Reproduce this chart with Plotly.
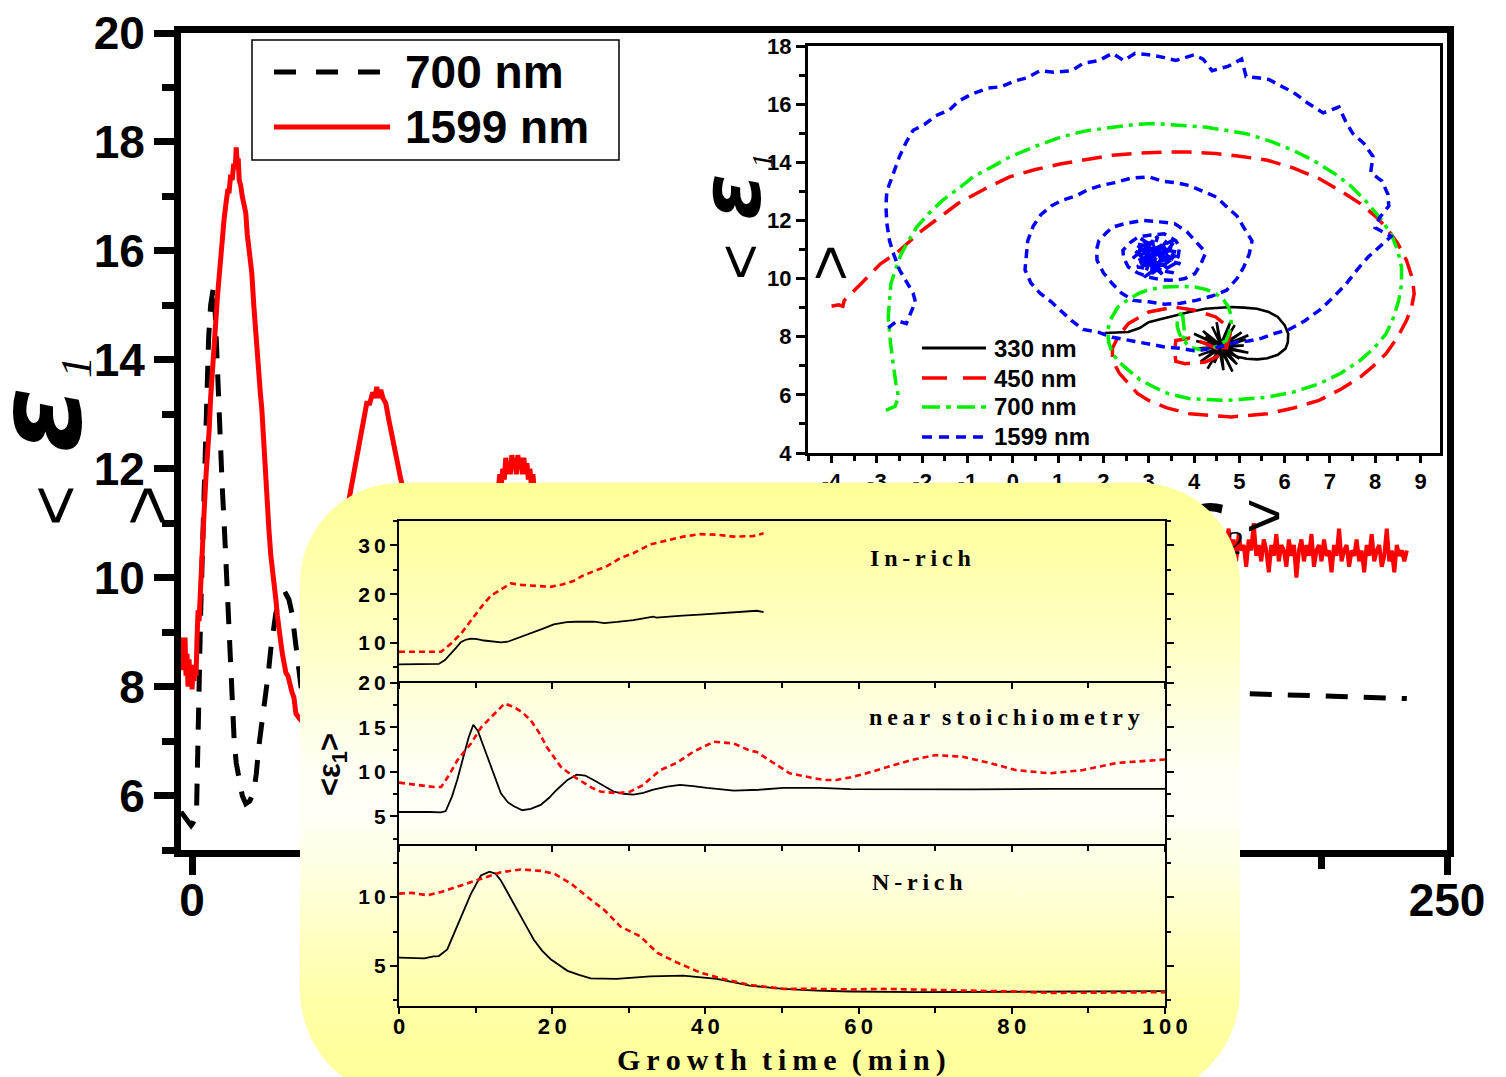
import numpy as np
import plotly.graph_objects as go

W, H = 1506, 1077

# ---------------- main panel: <eps1> vs growth time (min) ----------------
t_700 = [-2.2, -1.8, -1.4, -1.0, -0.6, -0.2, 0.2, 0.6, 0.9, 1.1, 1.3, 1.5, 1.7, 2.0, 2.3, 2.7,
         3.0, 3.3, 3.7, 4.0, 4.3, 4.6, 5.0, 5.5, 6.0, 6.5, 7.0, 7.4, 7.8, 8.4, 8.8, 9.3, 10.0,
         10.7, 11.5, 12.3, 12.8, 13.3, 14.0, 14.7, 15.2, 15.7, 16.2, 16.7, 17.2, 17.7, 18.2,
         18.7, 19.3, 19.9, 20.3, 20.7, 21.2, 21.7, 23.0, 24.5, 26.0, 28.0, 30.0, 32.0, 34.0,
         37.0, 40.0, 45.0, 55.0, 70.0, 100.0, 150.0, 200.0, 206.0, 210.0, 214.0, 218.0, 222.0,
         226.0, 230.0, 234.0, 238.0, 242.0]
e1_700 = [5.7, 5.65, 5.6, 5.55, 5.5, 5.45, 5.5, 5.6, 5.75, 6.4, 7.5, 8.4, 9.3, 10.4, 11.4, 12.6,
          13.5, 14.4, 15.0, 15.25, 15.35, 14.9, 13.8, 12.7, 11.7, 10.8, 9.7, 8.9, 8.1, 7.0, 6.6,
          6.3, 6.0, 5.85, 5.9, 6.07, 6.4, 6.9, 7.35, 7.8, 8.25, 8.7, 9.05, 9.35, 9.5, 9.6, 9.68,
          9.7, 9.6, 9.35, 9.05, 8.7, 8.35, 8.0, 7.4, 7.1, 7.3, 7.9, 8.3, 8.3, 8.0, 7.8, 7.85,
          7.95, 7.95, 7.9, 7.9, 7.9, 7.88, 7.88, 7.87, 7.86, 7.85, 7.84, 7.83, 7.82, 7.8, 7.79, 7.78]

t_1599 = [-2.2, -2.0, -1.8, -1.6, -1.4, -1.2, -1.0, -0.8, -0.6, -0.4, -0.2, 0.0, 0.2, 0.4, 0.6,
          0.8, 1.0, 1.2, 1.4, 1.7, 2.0, 2.4, 2.8, 3.1, 3.4, 3.7, 4.0, 4.4, 4.8, 5.1, 5.4, 5.7,
          6.0, 6.4, 6.8, 7.1, 7.4, 7.7, 8.0, 8.3, 8.6, 8.8, 9.0, 9.2, 9.4, 9.7, 10.0, 10.3, 10.7,
          11.0, 11.3, 11.6, 11.9, 12.3, 12.7, 13.0, 13.3, 13.6, 13.9, 14.3, 14.7, 15.0, 15.3,
          15.7, 16.0, 16.4, 16.7, 17.0, 17.3, 17.7, 18.0, 18.4, 18.7, 19.1, 19.5, 19.9, 20.3,
          20.7, 21.5, 22.5, 23.5, 24.5, 25.5, 26.5, 27.5, 28.5, 29.5, 30.5, 31.2, 31.8, 32.4,
          33.0, 33.6, 34.2, 34.8, 35.4, 36.0, 36.4, 36.8, 37.2, 37.6, 38.0, 38.6, 39.2, 39.8,
          40.4, 41.0, 41.6, 42.2, 43.5, 45.0, 47.0, 49.0, 51.0, 53.0, 55.0, 57.0, 59.0, 60.5,
          61.0, 61.3, 61.6, 61.9, 62.2, 62.5, 62.8, 63.1, 63.4, 63.7, 64.0, 64.3, 64.6, 64.9,
          65.2, 65.5, 65.8, 66.1, 66.4, 66.7, 67.0, 67.3, 67.6, 67.9, 68.2, 68.5, 69.0, 70.0,
          73.0, 77.0, 81.0, 85.0, 89.0, 93.0, 97.0, 101.0, 106.0, 112.0, 120.0, 130.0, 140.0,
          155.0, 170.0, 185.0, 200.0, 205.5]
e1_1599 = [8.9, 8.3, 8.8, 8.4, 8.9, 8.2, 8.6, 8.0, 8.5, 8.1, 8.4, 7.95, 8.3, 8.1, 8.4, 8.2, 8.9,
           9.4, 9.2, 9.8, 10.8, 11.2, 11.9, 12.2, 12.7, 13.3, 13.8, 14.2, 14.8, 15.2, 15.6,
           15.9, 16.3, 16.6, 16.9, 17.1, 17.1, 17.4, 17.3, 17.6, 17.5, 17.9, 17.6, 17.7, 17.3,
           17.2, 17.0, 16.9, 16.7, 16.3, 16.1, 15.8, 15.6, 15.0, 14.4, 14.1, 13.7, 13.4, 13.1,
           12.4, 11.7, 11.3, 10.9, 10.4, 10.2, 9.8, 9.6, 9.3, 9.0, 8.8, 8.6, 8.4, 8.25, 8.2,
           8.0, 7.9, 7.8, 7.5, 7.4, 7.3, 7.3, 7.5, 7.8, 8.3, 8.9, 9.5, 10.1, 10.8, 11.4, 11.7,
           12.1, 12.3, 12.7, 12.9, 13.2, 13.2, 13.4, 13.3, 13.5, 13.3, 13.45, 13.3, 13.2, 12.9,
           12.6, 12.3, 12.0, 11.8, 11.6, 11.1, 10.6, 10.0, 9.6, 9.4, 9.4, 9.6, 10.0, 10.6, 11.1,
           11.6, 11.9, 11.7, 12.0, 11.8, 12.2, 11.9, 12.1, 11.9, 12.25, 12.0, 12.2, 11.9, 12.25,
           12.0, 12.2, 11.9, 12.2, 11.9, 12.1, 11.8, 12.0, 11.7, 11.9, 11.6, 11.7, 11.5, 11.3,
           10.8, 10.3, 10.1, 10.3, 10.8, 11.1, 11.2, 11.0, 10.7, 10.5, 10.6, 10.8, 10.7, 10.6,
           10.6, 10.5, 10.5, 10.6]
# noisy plateau of the 1599 nm trace, sampled every 0.5 min from 206 min
e1_1599_tail = [10.6, 10.9, 10.4, 10.7, 10.3, 10.8, 10.5, 10.6, 10.2, 10.7, 10.5, 11.0, 10.4,
                10.6, 10.3, 10.7, 10.5, 10.1, 10.6, 10.4, 10.8, 10.3, 10.6, 10.5, 10.2, 10.7,
                10.4, 10.6, 10.0, 10.5, 10.7, 10.3, 10.6, 10.4, 10.8, 10.2, 10.5, 10.6, 10.3,
                10.7, 10.4, 10.5, 10.1, 10.6, 10.4, 10.9, 10.3, 10.5, 10.6, 10.2, 10.5, 10.4,
                10.7, 10.3, 10.5, 10.1, 10.6, 10.4, 10.8, 10.3, 10.5, 10.6, 10.2, 10.4, 10.9,
                10.3, 10.5, 10.1, 10.6, 10.4, 10.5, 10.3, 10.5]
t_1599_tail = list(206.0 + 0.5 * np.arange(len(e1_1599_tail)))

# ---------------- inset: <eps1> vs <eps2> trajectories ----------------
traj_e2_330 = [2.03, 2.3, 2.55, 2.8, 3.0, 3.3, 3.57, 3.9, 4.25, 4.55, 4.82, 5.1, 5.39, 5.65, 5.85,
               6.0, 6.08, 6.07, 6.02, 5.85, 5.62, 5.4, 5.16, 4.98, 4.82, 4.7, 4.6,
               5.15, 4.62, 4.9, 4.58, 4.5, 4.6, 4.2, 4.55, 4.05, 4.62, 4.1, 4.58, 4.3, 4.6,
               4.65, 4.55, 4.95, 4.62, 5.2, 4.58, 5.05, 4.6, 4.4, 4.62, 4.1, 4.58, 4.45, 4.6,
               4.85, 4.55, 5.1, 4.62, 4.75, 4.58, 4.25, 4.6, 4.15, 4.62, 5.0, 4.58, 5.2, 4.6,
               4.35, 4.62, 4.8, 4.58, 4.0, 4.6]
traj_e1_330 = [8.13, 8.15, 8.16, 8.3, 8.5, 8.62, 8.73, 8.85, 8.96, 9.0, 9.02, 9.0, 8.96, 8.85, 8.68,
               8.4, 8.1, 7.8, 7.59, 7.38, 7.26, 7.22, 7.24, 7.3, 7.42, 7.6, 7.65,
               7.9, 7.66, 8.4, 7.62, 8.5, 7.7, 8.2, 7.64, 7.85, 7.66, 7.35, 7.62, 6.9, 7.7,
               6.85, 7.64, 7.05, 7.66, 7.45, 7.62, 8.15, 7.7, 8.35, 7.64, 7.6, 7.66, 7.1, 7.62,
               6.8, 7.7, 7.7, 7.64, 8.1, 7.66, 8.0, 7.62, 7.15, 7.7, 7.25, 7.64, 8.05, 7.66,
               7.4, 7.62, 8.5, 7.7, 8.1, 7.65]

traj_e2_450 = [-4.0, -3.85, -3.75, -3.72, -3.3, -2.92, -2.58, -2.0, -1.21, -0.6, -0.07, 0.5, 1.07,
               1.6, 2.2, 2.8, 3.34, 3.9, 4.48, 5.05, 5.62, 6.2, 6.76, 7.25, 7.67, 8.0, 8.24, 8.5,
               8.69, 8.82, 8.86, 8.8, 8.69, 8.5, 8.24, 7.95, 7.67, 7.25, 6.76, 6.2, 5.62, 4.82,
               3.91, 3.4, 3.0, 2.75, 2.55, 2.35, 2.2, 2.2, 2.32, 2.55, 3.0, 3.57, 4.02, 4.48,
               4.76, 4.8, 4.76, 4.65, 4.25, 3.8, 3.6, 3.57, 3.6, 3.9, 4.2, 4.5, 4.7, 4.75, 4.6]
traj_e1_450 = [9.05, 9.1, 9.05, 9.25, 9.9, 10.51, 10.86, 11.66, 12.58, 13.1, 13.5, 13.75, 13.95,
               14.1, 14.24, 14.32, 14.35, 14.35, 14.3, 14.2, 14.07, 13.8, 13.44, 13.0, 12.58,
               12.15, 11.77, 11.2, 10.63, 10.0, 9.48, 9.0, 8.56, 8.0, 7.42, 6.98, 6.61, 6.2,
               5.81, 5.55, 5.35, 5.24, 5.35, 5.55, 5.81, 6.05, 6.38, 6.75, 7.19, 7.6, 7.99,
               8.45, 8.85, 9.02, 8.91, 8.68, 8.33, 8.1, 7.87, 7.42, 7.13, 7.07, 7.15, 7.5, 7.87,
               7.95, 7.8, 7.6, 7.5, 7.8, 7.6]

traj_e2_700 = [-2.8, -2.6, -2.52, -2.58, -2.63, -2.7, -2.75, -2.72, -2.69, -2.58, -2.46, -2.3,
               -2.12, -1.85, -1.55, -1.2, -0.87, -0.45, -0.07, 0.5, 1.07, 1.6, 2.2, 2.7, 3.11,
               3.7, 4.25, 4.7, 5.16, 5.7, 6.19, 6.65, 7.1, 7.45, 7.78, 8.1, 8.35, 8.5, 8.58,
               8.58, 8.52, 8.4, 8.24, 7.98, 7.67, 7.25, 6.76, 6.2, 5.62, 4.71, 3.91, 3.45, 3.11,
               2.8, 2.55, 2.35, 2.2, 2.12, 2.09, 2.18, 2.32, 2.55, 2.77, 3.0, 3.34, 3.7, 4.02,
               4.28, 4.48, 4.65, 4.76, 4.82, 4.82, 4.78, 4.71, 4.55, 4.37, 4.15, 3.91, 3.78,
               3.68, 3.63, 3.63, 3.7, 3.74, 3.8, 3.7, 3.85]
traj_e1_700 = [5.47, 5.6, 5.92, 6.4, 6.96, 7.8, 8.68, 9.3, 9.82, 10.35, 10.86, 11.3, 11.77, 12.25,
               12.69, 13.1, 13.5, 13.85, 14.18, 14.55, 14.87, 15.08, 15.21, 15.3, 15.33, 15.28,
               15.21, 15.1, 14.98, 14.72, 14.41, 14.05, 13.61, 13.2, 12.69, 12.1, 11.54, 10.95,
               10.4, 9.8, 9.25, 8.65, 8.1, 7.62, 7.19, 6.75, 6.38, 6.1, 5.92, 5.81, 5.87, 6.03,
               6.27, 6.53, 6.84, 7.12, 7.42, 7.8, 8.22, 8.65, 9.02, 9.28, 9.48, 9.62, 9.71,
               9.73, 9.71, 9.62, 9.48, 9.27, 9.02, 8.72, 8.45, 8.15, 7.87, 7.7, 7.59, 7.55,
               7.64, 7.85, 8.1, 8.35, 8.56, 8.75, 8.9, 8.0, 7.9, 7.85]

traj_e2_1599 = [-2.75, -2.55, -2.35, -2.25, -2.15, -2.2, -2.35, -2.5, -2.62, -2.72, -2.78, -2.8,
                -2.78, -2.65, -2.5, -2.35, -2.2, -1.95, -1.7, -1.4, -1.2, -0.9, -0.55, -0.25,
                0.05, 0.3, 0.6, 0.9, 1.3, 1.55, 1.9, 2.2, 2.45, 2.7, 3.0, 3.35, 3.6, 4.0, 4.2,
                4.4, 4.75, 5.05, 5.15, 5.45, 5.65, 5.95, 6.2, 6.5, 6.85, 7.2, 7.35, 7.5, 7.75,
                7.95, 7.9, 8.15, 8.28, 8.3, 8.1, 8.0, 8.35, 8.1, 7.85, 7.6, 7.35, 7.1, 6.8, 6.45,
                6.1, 5.75, 5.5, 5.2, 4.95, 4.7, 4.45, 4.2, 4.0, 3.7, 3.35, 3.1, 2.85, 2.5, 2.2,
                1.9, 1.55, 1.3, 1.05, 0.85, 0.6, 0.4, 0.27, 0.3, 0.33, 0.45, 0.62, 0.85, 1.1,
                1.4, 1.65, 1.95, 2.25, 2.6, 3.0, 3.3, 3.6, 3.9, 4.2, 4.5, 4.7, 4.95, 5.1, 5.28,
                5.22, 5.1, 4.95, 4.72, 4.4, 4.05, 3.7, 3.35, 3.0, 2.66, 2.4, 2.2, 2.0, 1.86,
                1.85, 1.9, 2.05, 2.2, 2.5, 2.89, 3.25, 3.57, 3.85, 4.02, 4.2, 4.25, 4.15, 4.02,
                3.8, 3.57, 3.3, 3.0, 2.75, 2.55, 2.45, 2.43, 2.6, 2.77, 3.05, 3.34, 3.6, 3.68,
                3.65, 3.57, 3.35, 3.11, 2.85, 2.77, 2.8, 2.89, 3.15, 3.34, 3.45, 3.34, 3.1,
                2.95, 3.0, 3.2, 3.3, 3.15, 2.9, 3.05, 3.25, 3.1,
                3.4, 2.75, 3.55, 2.7, 3.65, 2.9, 3.2, 2.65, 3.6, 3.0, 3.45, 2.8, 3.7, 2.95, 3.3,
                2.7, 3.5, 3.1, 2.85, 3.6, 3.05, 3.35, 2.75, 3.25]
traj_e1_1599 = [8.3, 8.55, 8.45, 8.8, 9.2, 9.5, 9.9, 10.3, 10.8, 11.3, 11.9, 12.5, 13.0, 13.6,
                14.2, 14.7, 15.1, 15.3, 15.6, 15.8, 16.1, 16.35, 16.55, 16.6, 16.8, 16.9, 17.15,
                17.1, 17.15, 17.4, 17.5, 17.75, 17.5, 17.75, 17.7, 17.6, 17.5, 17.7, 17.55,
                17.15, 17.3, 17.55, 16.95, 16.9, 16.85, 16.6, 16.4, 16.05, 15.7, 15.9, 15.4,
                15.0, 14.65, 14.2, 13.65, 13.35, 12.9, 12.5, 12.1, 11.75, 11.45, 11.1, 10.75,
                10.3, 9.8, 9.4, 8.95, 8.55, 8.25, 8.1, 7.95, 7.85, 7.82, 7.7, 7.62, 7.55, 7.52,
                7.6, 7.65, 7.72, 7.78, 7.88, 7.98, 8.15, 8.25, 8.55, 8.9, 9.2, 9.5, 9.85, 10.3,
                10.8, 11.3, 11.8, 12.2, 12.5, 12.7, 12.85, 13.05, 13.2, 13.3, 13.45, 13.5, 13.35,
                13.3, 13.2, 13.0, 12.8, 12.5, 12.15, 11.75, 11.3, 10.85, 10.4, 10.0, 9.6, 9.4,
                9.25, 9.15, 9.12, 9.2, 9.25, 9.5, 9.82, 10.2, 10.63, 11.0, 11.3, 11.55, 11.77,
                11.9, 12.0, 11.95, 11.89, 11.6, 11.31, 11.0, 10.86, 10.5, 10.17, 10.0, 9.94,
                9.95, 10.05, 10.2, 10.4, 10.7, 10.97, 11.25, 11.43, 11.5, 11.54, 11.3, 11.08,
                10.75, 10.51, 10.3, 10.35, 10.5, 10.74, 11.0, 11.2, 11.25, 11.08, 10.85, 10.63,
                10.5, 10.7, 10.95, 11.05, 10.8, 10.6, 10.75, 11.1, 10.9, 10.7,
                11.3, 10.4, 10.2, 11.2, 10.9, 10.05, 11.45, 10.7, 11.35, 10.1, 10.6, 11.4, 10.5,
                10.85, 10.15, 10.95, 11.1, 10.3, 11.15, 10.75, 11.3, 10.45, 10.6, 11.0]

inset_ticks_x = [-4, -3, -2, -1, 0, 1, 2, 3, 4, 5, 6, 7, 8, 9]
inset_ticks_y = [4, 6, 8, 10, 12, 14, 16, 18]

# ---------------- growth-time panels (three growth regimes) ----------------
t_in_solid = [0, 2, 4, 5.2, 6.0, 6.8, 7.5, 8.1, 8.8, 9.4, 10.2, 11.1, 12.2, 13.3, 14.2, 15.0, 16.3,
              17.6, 18.9, 20.2, 21.0, 21.9, 23.0, 24.1, 25.5, 26.8, 27.5, 28.5, 30.6, 32.0, 33.2,
              33.6, 35.0, 37.0, 39.3, 41.5, 43.7, 45.3, 46.7, 47.6]
e_in_solid = [5.6, 5.6, 5.65, 5.7, 6.5, 7.8, 9.1, 10.2, 10.7, 10.9, 10.8, 10.5, 10.25, 10.1, 10.25,
              10.7, 11.4, 12.2, 13.0, 13.8, 14.05, 14.25, 14.35, 14.4, 14.35, 14.05, 14.1, 14.3,
              14.7, 15.0, 15.4, 15.2, 15.4, 15.6, 15.8, 16.0, 16.3, 16.45, 16.6, 16.3]
t_in_dash = [0, 2, 4, 5.5, 6.8, 8.1, 9.4, 10.7, 12.0, 13.3, 14.6, 16.0, 17.6, 19.8, 21.3, 22.8,
             24.0, 25.4, 27.2, 28.9, 30.6, 32.8, 35.0, 37.1, 39.3, 41.5, 43.7, 44.8, 46.2, 47.6]
e_in_dash = [8.2, 8.2, 8.25, 8.2, 9.9, 11.9, 14.6, 17.3, 19.7, 21.0, 22.2, 21.9, 21.7, 21.5, 22.0,
             22.7, 23.8, 24.7, 25.8, 27.4, 28.4, 30.2, 31.0, 31.8, 32.3, 32.2, 31.8, 31.8, 31.9,
             32.5]

t_ns_solid = [0, 2, 4, 5.5, 6.1, 6.9, 7.6, 8.5, 9.1, 9.7, 10.3, 10.9, 11.6, 12.2, 13.3, 14.2, 15.0,
              16.1, 17.2, 18.5, 19.6, 20.6, 22.0, 23.2, 24.3, 25.4, 26.7, 28.0, 29.3, 30.6, 31.9,
              33.2, 35.0, 36.7, 38.4, 40.2, 43.7, 47.0, 50.2, 55.0, 58.9, 65.0, 75.0, 85.0, 100.0]
e_ns_solid = [5.5, 5.52, 5.5, 5.45, 5.6, 7.2, 9.1, 12.0, 13.9, 15.3, 14.6, 13.2, 11.6, 10.2, 7.6,
              6.6, 6.15, 5.7, 5.85, 6.3, 7.1, 8.0, 9.1, 9.7, 9.6, 9.1, 8.4, 7.8, 7.55, 7.45, 7.65,
              8.0, 8.35, 8.55, 8.4, 8.2, 7.9, 8.0, 8.2, 8.2, 8.07, 8.05, 8.05, 8.1, 8.1]
t_ns_dash = [0, 2, 4.6, 5.5, 6.5, 7.6, 8.5, 9.4, 10.7, 12.4, 13.8, 15.0, 16.1, 17.2, 18.3, 19.3,
             20.2, 21.1, 22.6, 24.1, 25.2, 26.3, 27.4, 28.5, 30.2, 31.9, 33.0, 34.1, 36.2, 38.4,
             41.1, 43.7, 45.8, 46.7, 48.2, 49.7, 51.0, 53.0, 55.4, 57.1, 59.0, 61.0, 64.1, 66.7,
             70.1, 73.6, 77.1, 80.6, 84.9, 89.2, 93.6, 97.0, 100.0]
e_ns_dash = [8.8, 8.6, 8.3, 8.3, 9.6, 11.3, 12.3, 13.2, 15.0, 16.5, 17.7, 17.3, 16.7, 15.8, 14.4,
             12.8, 11.7, 10.6, 9.6, 8.74, 8.2, 7.8, 7.7, 7.6, 7.8, 8.55, 9.4, 10.2, 11.0, 12.25,
             13.4, 13.2, 12.4, 12.25, 11.4, 10.6, 9.85, 9.5, 9.1, 9.1, 9.4, 9.85, 10.6, 11.3, 11.9,
             11.7, 11.0, 10.2, 9.85, 10.2, 11.0, 11.2, 11.4]

t_n_solid = [0, 1.5, 3.3, 4.5, 5.2, 6.3, 7.6, 8.5, 9.4, 10.7, 11.8, 12.6, 13.3, 14.3, 15.4, 16.5,
             17.6, 18.7, 19.8, 21.0, 22.0, 23.5, 25.0, 28.4, 32.8, 37.1, 41.5, 45.8, 50.2, 54.5,
             58.9, 67.5, 76.0, 84.9, 92.0, 100.0]
e_n_solid = [5.6, 5.6, 5.55, 5.7, 5.72, 6.2, 7.86, 9.1, 10.25, 11.56, 11.84, 11.7, 11.2, 10.2,
             9.06, 8.0, 6.9, 6.1, 5.49, 5.0, 4.65, 4.35, 4.1, 4.06, 4.25, 4.3, 4.06, 3.58, 3.34,
             3.22, 3.15, 3.1, 3.12, 3.1, 3.13, 3.18]
t_n_dash = [0, 1.7, 3.7, 5.5, 8.1, 10.7, 13.3, 15.9, 18.5, 20.3, 22.5, 24.6, 26.8, 28.9, 31.5,
            33.7, 36.3, 39.3, 42.3, 45.8, 50.2, 54.5, 58.9, 63.2, 69.7, 76.2, 80.6, 84.9, 90.0,
            95.0, 100.0]
e_n_dash = [10.25, 10.3, 10.13, 10.37, 10.84, 11.3, 11.8, 12.0, 11.9, 11.68, 10.96, 10.0, 9.06,
            7.86, 7.15, 5.96, 5.25, 4.53, 4.06, 3.63, 3.34, 3.34, 3.3, 3.34, 3.28, 3.22, 3.15,
            3.05, 3.05, 3.08, 3.1]

TS = "\u2009"   # thin space between letters of the spaced labels
WS = "\u2002"   # en space between words of the spaced labels


def spaced(s):
    return WS.join(TS.join(w) for w in s.split(" "))


def xdom(a, b):
    return [a / W, b / W]


def ydom(top, bottom):
    return [1 - bottom / H, 1 - top / H]


SANS = "Liberation Sans, Arial"
SERIF = "Liberation Serif, Times New Roman"
GREEK = "DejaVu Sans"

fig = go.Figure()

# main panel traces
fig.add_trace(go.Scatter(x=t_700, y=e1_700, mode="lines", xaxis="x", yaxis="y",
                         line=dict(color="black", width=5, dash="22px,16px")))
fig.add_trace(go.Scatter(x=t_1599, y=e1_1599, mode="lines", xaxis="x", yaxis="y",
                         line=dict(color="#ff0000", width=5)))
fig.add_trace(go.Scatter(x=t_1599_tail, y=e1_1599_tail, mode="lines", xaxis="x", yaxis="y",
                         line=dict(color="#ff0000", width=4)))

# trajectory inset traces
fig.add_trace(go.Scatter(x=traj_e2_330, y=traj_e1_330, mode="lines", xaxis="x2", yaxis="y2",
                         line=dict(color="black", width=2.6)))
fig.add_trace(go.Scatter(x=traj_e2_450, y=traj_e1_450, mode="lines", xaxis="x2", yaxis="y2",
                         line=dict(color="#ff0000", width=3.5, dash="20px,10px")))
fig.add_trace(go.Scatter(x=traj_e2_700, y=traj_e1_700, mode="lines", xaxis="x2", yaxis="y2",
                         line=dict(color="#00ee00", width=3.5, dash="16px,6px,4px,6px")))
fig.add_trace(go.Scatter(x=traj_e2_1599, y=traj_e1_1599, mode="lines", xaxis="x2", yaxis="y2",
                         line=dict(color="#0000ff", width=3.5, dash="9px,6px")))

# the inset's <eps2> axis label; it sits in its own layer (pixel units) between the inset
# and the shaded panel, which covers most of it
lab_l, lab_r, lab_t, lab_b = 1110, 1320, 470, 590
for txt, lx, ly, size, fam, wt, st in [("<", 1150, 520, 60, SANS, "normal", "normal"),
                                        ("ε", 1205, 526, 74, GREEK, "bold", "italic"),
                                        ("2", 1234, 545, 34, SERIF, "normal", "italic"),
                                        (">", 1264, 520, 62, SANS, "normal", "normal")]:
    fig.add_trace(go.Scatter(x=[lx], y=[H - ly], mode="text", text=[txt], xaxis="x3",
                             yaxis="y3", cliponaxis=False, textposition="middle center",
                             textfont=dict(family=fam, size=size, color="black", weight=wt,
                                           style=st)))


# rounded, shaded panel that holds the growth-time plots (pixel units of its own axes)
def rounded_panel(x0, x1, ytop, ybot, r_top, r_bot, n=30):
    pts = []
    specs = [(x1 - r_top, ytop - r_top, 0, r_top), (x0 + r_top, ytop - r_top, 90, r_top),
             (x0 + r_bot, ybot + r_bot, 180, r_bot), (x1 - r_bot, ybot + r_bot, 270, r_bot)]
    for cx, cy, a0, r in specs:
        a = np.radians(np.linspace(a0, a0 + 90, n))
        pts += list(zip(cx + r * np.cos(a), cy + r * np.sin(a)))
    pts.append(pts[0])
    xs, ys = zip(*pts)
    return list(xs), list(ys)


px_l, px_r, px_t, px_b = 300, 1240, 483, 1100
panel_x, panel_y = rounded_panel(px_l, px_r, H - px_t, H - px_b, 100, 110)
yellow = [[0.0, "rgb(255,255,150)"], [0.15, "rgb(255,255,165)"], [0.25, "rgb(255,255,190)"],
          [0.35, "rgb(255,255,220)"], [0.47, "rgb(255,255,248)"], [0.55, "rgb(255,255,242)"],
          [0.65, "rgb(255,255,220)"], [0.75, "rgb(255,255,195)"], [0.88, "rgb(255,255,170)"],
          [1.0, "rgb(255,255,152)"]]
fig.add_trace(go.Scatter(x=panel_x, y=panel_y, mode="lines", xaxis="x4", yaxis="y4",
                         fill="toself", line=dict(width=0, color="rgba(0,0,0,0)"),
                         fillgradient=dict(type="vertical", colorscale=yellow,
                                           start=H - px_b, stop=H - px_t)))

# growth-time panels
for xa, ya, ts, es, td, ed in [("x5", "y5", t_in_solid, e_in_solid, t_in_dash, e_in_dash),
                               ("x6", "y6", t_ns_solid, e_ns_solid, t_ns_dash, e_ns_dash),
                               ("x7", "y7", t_n_solid, e_n_solid, t_n_dash, e_n_dash)]:
    fig.add_trace(go.Scatter(x=ts, y=es, mode="lines", xaxis=xa, yaxis=ya,
                             line=dict(color="black", width=1.8)))
    fig.add_trace(go.Scatter(x=td, y=ed, mode="lines", xaxis=xa, yaxis=ya,
                             line=dict(color="#ff0000", width=2.6, dash="6px,4px")))

main_font = dict(family=SANS, size=46, color="black", weight="bold")
inset_font = dict(family=SANS, size=22, color="black", weight="bold")
grow_font = dict(family=SANS, size=21, color="black", weight="bold")

layout = dict(
    template="none",
    width=W, height=H, margin=dict(l=0, r=0, t=0, b=0, autoexpand=False),
    paper_bgcolor="white", plot_bgcolor="rgba(0,0,0,0)", showlegend=False,
    xaxis=dict(domain=xdom(181, 1447), range=[-2.2, 250], anchor="y", showgrid=False,
               zeroline=False, showline=True, linewidth=7, linecolor="black", mirror=True,
               ticks="outside", ticklen=18, tickwidth=7, tickcolor="black", tick0=0, dtick=50,
               minor=dict(dtick=25, tick0=0, ticks="outside", ticklen=12, tickwidth=7,
                          tickcolor="black"),
               tickfont=main_font, ticklabelstandoff=-14, automargin=False),
    yaxis=dict(domain=ydom(33, 850), range=[5, 20], anchor="x", showgrid=False, zeroline=False,
               showline=True, linewidth=7, linecolor="black", mirror=True, ticks="outside",
               ticklen=20, tickwidth=7, tickcolor="black", tick0=0, dtick=2,
               minor=dict(dtick=1, tick0=0, ticks="outside", ticklen=12, tickwidth=7,
                          tickcolor="black"),
               tickfont=main_font, automargin=False),
    xaxis2=dict(domain=xdom(808, 1440), range=[-4.52, 9.43], anchor="y2", showgrid=False,
                zeroline=False, showline=True, linewidth=3, linecolor="black", mirror=True,
                ticks="outside", ticklen=7, tickwidth=3, tickcolor="black",
                tickvals=inset_ticks_x, ticktext=[str(v) for v in inset_ticks_x],
                minor=dict(tickvals=[v + 0.5 for v in inset_ticks_x] + [-4.5], ticks="outside",
                           ticklen=5, tickwidth=3, tickcolor="black"),
                tickfont=inset_font, automargin=False),
    yaxis2=dict(domain=ydom(46, 453), range=[4, 18], anchor="x2", showgrid=False, zeroline=False,
                showline=True, linewidth=3, linecolor="black", mirror=True, ticks="outside",
                ticklen=9, tickwidth=3, tickcolor="black", tickvals=inset_ticks_y,
                minor=dict(tickvals=[5, 7, 9, 11, 13, 15, 17], ticks="outside", ticklen=6,
                           tickwidth=3, tickcolor="black"),
                tickfont=inset_font, automargin=False),
    xaxis3=dict(domain=xdom(lab_l, lab_r), range=[lab_l, lab_r], anchor="y3", visible=False,
                automargin=False),
    yaxis3=dict(domain=ydom(lab_t, lab_b), range=[H - lab_b, H - lab_t], anchor="x3",
                visible=False, automargin=False),
    xaxis4=dict(domain=xdom(px_l, px_r), range=[px_l, px_r], anchor="y4", visible=False,
                automargin=False),
    yaxis4=dict(domain=[0, (H - px_t) / H], range=[0, H - px_t], anchor="x4", visible=False,
                automargin=False),
)

grow_x_ticks = [0, 20, 40, 60, 80, 100]
panels = [("5", ydom(521, 681), [2.2, 35], [10, 20, 30], [5, 15, 25, 35], False),
          ("6", ydom(683, 844), [1.9, 20], [5, 10, 15, 20], [2.5, 7.5, 12.5, 17.5], False),
          ("7", ydom(846, 1006), [2.1, 13.7], [5, 10], [2.5, 7.5, 12.5], True)]
for k, ydomain, yrange, yt, ym, labels in panels:
    layout["xaxis" + k] = dict(
        domain=xdom(399, 1165), range=[0, 100], anchor="y" + k, showgrid=False, zeroline=False,
        showline=True, linewidth=2, linecolor="black", mirror=True, ticks="outside", ticklen=6,
        tickwidth=1.5, tickcolor="black", tickvals=grow_x_ticks,
        ticktext=[spaced(str(v)) for v in grow_x_ticks], showticklabels=labels,
        minor=dict(tickvals=[10, 30, 50, 70, 90], ticks="outside", ticklen=5, tickwidth=1.5,
                   tickcolor="black"),
        tickfont=dict(family=SANS, size=22, color="black", weight="bold"),
        ticklabelstandoff=-6, automargin=False)
    layout["yaxis" + k] = dict(
        domain=ydomain, range=yrange, anchor="x" + k, showgrid=False, zeroline=False,
        showline=True, linewidth=2, linecolor="black", mirror="ticks", ticks="outside",
        ticklen=7, tickwidth=1.5, tickcolor="black", tickvals=yt,
        ticktext=[spaced(str(v)) for v in yt],
        minor=dict(tickvals=ym, ticks="outside", ticklen=4, tickwidth=1.5, tickcolor="black"),
        tickfont=grow_font, automargin=False)

fig.update_layout(**layout)

# white backing of the trajectory inset (lives in the inset's own layer)
shapes = [dict(type="rect", xref="x2", yref="y2", x0=-4.52, x1=9.43, y0=4, y1=18, layer="below",
               fillcolor="white", line=dict(width=0))]

# legend of the main panel
shapes.append(dict(type="rect", xref="paper", yref="paper", x0=252 / W, x1=619 / W,
                   y0=1 - 160 / H, y1=1 - 40 / H, layer="above", fillcolor="white",
                   line=dict(color="black", width=1.5)))
main_keys = [("700 nm", 72, dict(color="black", width=5, dash="22px,20px")),
             ("1599 nm", 127, dict(color="#ff0000", width=5))]
annotations = []
for label, yy, ln in main_keys:
    shapes.append(dict(type="line", xref="paper", yref="paper", x0=274 / W, x1=390 / W,
                       y0=1 - yy / H, y1=1 - yy / H, layer="above", line=ln))
    annotations.append(dict(text=label, x=403 / W, y=1 - yy / H, xref="paper", yref="paper",
                            xanchor="left", yanchor="middle", showarrow=False,
                            font=dict(family=SANS, size=46, color="black", weight="bold")))

# legend of the trajectory inset
inset_keys = [("330 nm", 348, dict(color="black", width=3)),
              ("450 nm", 378, dict(color="#ff0000", width=3.5, dash="25px,16px")),
              ("700 nm", 407, dict(color="#00ee00", width=3.5, dash="18px,6px,5px,6px")),
              ("1599 nm", 437, dict(color="#0000ff", width=3.5, dash="10px,7px"))]
for label, yy, ln in inset_keys:
    shapes.append(dict(type="line", xref="paper", yref="paper", x0=922 / W, x1=986 / W,
                       y0=1 - yy / H, y1=1 - yy / H, layer="above", line=ln))
    annotations.append(dict(text=label, x=992 / W, y=1 - yy / H, xref="paper", yref="paper",
                            xanchor="left", yanchor="middle", showarrow=False,
                            font=dict(family=SANS, size=24, color="black", weight="bold")))


def note(text, x, y, size, family=SANS, weight="normal", style="normal", angle=0,
         xanchor="center"):
    return dict(text=text, x=x / W, y=1 - y / H, xref="paper", yref="paper", showarrow=False,
                textangle=angle, xanchor=xanchor, yanchor="middle",
                font=dict(family=family, size=size, color="black", weight=weight, style=style))


# <eps1> label of the main panel
annotations += [note("&lt;", 55, 506, 70, angle=-90),
                note("ε", 38, 420, 120, GREEK, "bold", "italic", angle=-90),
                note("1", 76, 367, 44, SERIF, "normal", "italic", angle=-90),
                note("&gt;", 147, 506, 70, angle=-90)]
# <eps1> label of the trajectory inset
annotations += [note("&lt;", 739, 262, 62, angle=-90),
                note("ε", 731, 197, 84, GREEK, "bold", "italic", angle=-90),
                note("1", 761, 161, 30, SERIF, "normal", "italic", angle=-90),
                note("&gt;", 830, 263, 62, angle=-90)]
# growth-time panel labels
annotations += [note(spaced("In-rich"), 868, 558, 24, SERIF, "bold", xanchor="left"),
                note(spaced("near stoichiometry"), 867, 717, 24, SERIF, "bold", xanchor="left"),
                note(spaced("N-rich"), 870, 882, 24, SERIF, "bold", xanchor="left"),
                note(spaced("Growth time (min)"), 781, 1060, 30, SERIF, "bold"),
                note("&lt;ε<sub>1</sub>&gt;", 332, 765, 31, SANS, "bold", angle=-90)]

fig.update_layout(shapes=shapes, annotations=annotations)
fig.write_html("out.html")
